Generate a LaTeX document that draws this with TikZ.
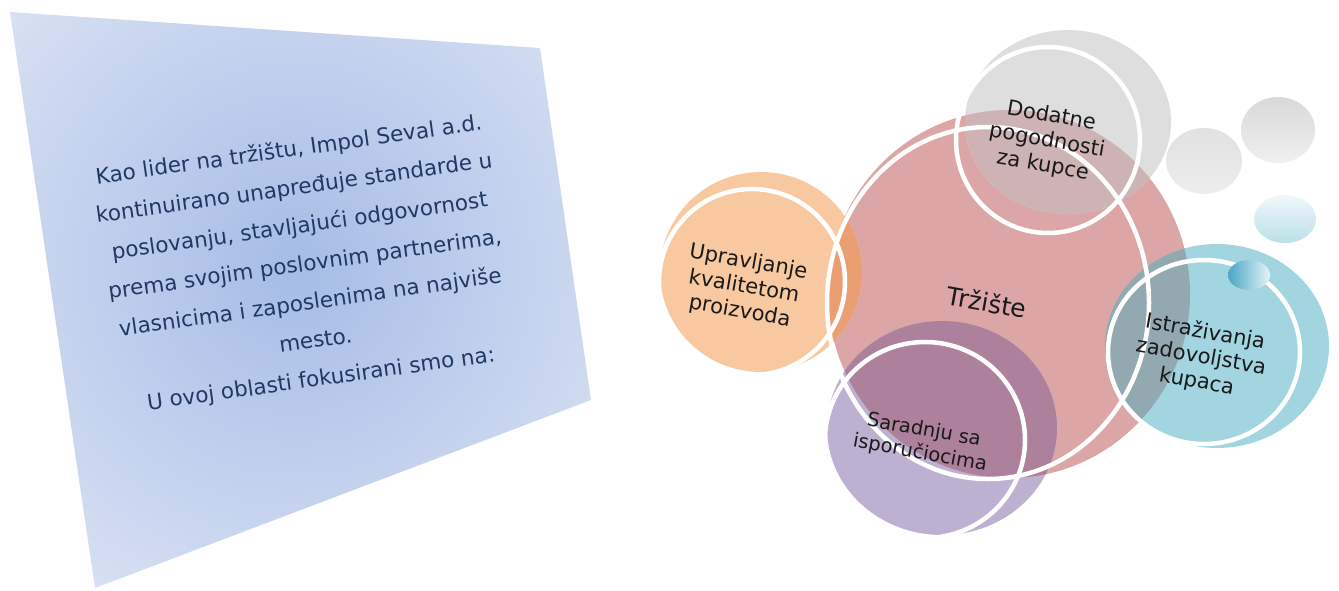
\documentclass[tikz,border=0pt]{standalone}
\usepackage{fontspec}
\setmainfont{DejaVu Sans}
\usetikzlibrary{shapes.geometric}
\definecolor{panelin}{HTML}{A6BCE6}
\definecolor{panelout}{HTML}{DFE6F5}
\definecolor{paneltext}{HTML}{1F3864}
\definecolor{pinkfill}{HTML}{DDA6A6}
\definecolor{orangefill}{HTML}{F8C9A0}
\definecolor{orangedeep}{HTML}{E99F72}
\definecolor{grayfill}{HTML}{DEDEDE}
\definecolor{graydeep}{HTML}{CDB3B3}
\definecolor{purplefill}{HTML}{BEB0D0}
\definecolor{purpledeep}{HTML}{AD819C}
\definecolor{tealfill}{HTML}{A2D5E0}
\definecolor{tealdeep}{HTML}{93A9B2}
\definecolor{tealdark}{HTML}{4AA6C5}
\definecolor{teallight}{HTML}{E6F3F7}
\tikzset{
  bubble/.style={ellipse, inner sep=0pt, draw=none},
  rim/.style={ellipse, inner sep=0pt, draw=white, line width=4.5pt},
  lbl/.style={align=center, text=black!90, inner sep=0pt, rotate=-10,
    font=\fontsize{21}{25}\selectfont},
}
\begin{document}
\begin{tikzpicture}[x=1pt,y=-1pt]
\useasboundingbox (0,0) rectangle (1339,590);
\coordinate (q1) at (10,12);
\coordinate (q2) at (540,48);
\coordinate (q3) at (591,400);
\coordinate (q4) at (95,588);
\begin{scope}
\clip (q1) -- (q2) -- (q3) -- (q4) -- cycle;
\shade[inner color=panelin, outer color=panelout] (295,268) circle (440pt);
\end{scope}
\node[align=center, text=paneltext, rotate=8, inner sep=0pt,
  font=\fontsize{21.5}{38.5}\selectfont] (intro) at (305,265)
  {Kao lider na tržištu, Impol Seval a.d.\\
   kontinuirano unapređuje standarde u\\
   poslovanju, stavljajući odgovornost\\
   prema svojim poslovnim partnerima,\\
   vlasnicima i zaposlenima na najviše\\
   mesto.\\
   U ovoj oblasti fokusirani smo na:};
\node[bubble, fill=pinkfill, minimum width=362pt, minimum height=368pt] (trz) at (1009,294){};
\node[bubble, fill=orangefill, minimum width=202pt, minimum height=200pt] (upr) at (761,272){};
\node[bubble, fill=grayfill, minimum width=206pt, minimum height=184pt] (dod) at (1068,122){};
\node[bubble, fill=purplefill, minimum width=230pt, minimum height=214pt] (sar) at (942,428){};
\node[bubble, fill=tealfill, minimum width=224pt, minimum height=204pt] (ist) at (1217,346){};
\begin{scope}
\clip (trz.center) ellipse (181pt and 184pt);
\fill[orangedeep] (upr.center) ellipse (101pt and 100pt);
\fill[graydeep] (dod.center) ellipse (103pt and 92pt);
\fill[purpledeep] (sar.center) ellipse (115pt and 107pt);
\fill[tealdeep] (ist.center) ellipse (112pt and 102pt);
\end{scope}
\node[rim, minimum width=322pt, minimum height=352pt] (trzrim) at (988,303){};
\node[rim, minimum width=186pt, minimum height=186pt] (uprrim) at (752,282){};
\node[rim, minimum width=184pt, minimum height=186pt] (dodrim) at (1048,140){};
\node[rim, minimum width=200pt, minimum height=196pt] (sarrim) at (925,440){};
\node[rim, minimum width=192pt, minimum height=184pt] (istrim) at (1204,352){};
\shade[top color=black!12, bottom color=black!7] (1204,161) ellipse (38pt and 33pt);
\shade[top color=black!15, bottom color=black!6] (1278,130) ellipse (37pt and 33pt);
\shade[top color=teallight!60!white, bottom color=tealfill!75!white] (1285,219) ellipse (31pt and 24pt);
\shade[left color=tealdark, right color=teallight] (1249,275) ellipse (21pt and 15pt);
\node[lbl] (trzlbl) at (987,302) {\fontsize{25}{30}\selectfont Tržište};
\node[lbl] (uprlbl) at (744,287) {Upravljanje\\kvalitetom\\proizvoda};
\node[lbl] (dodlbl) at (1047,141) {Dodatne\\pogodnosti\\za kupce};
\node[lbl] (istlbl) at (1201,357) {Istraživanja\\zadovoljstva\\kupaca};
\node[lbl, font=\fontsize{19.5}{23}\selectfont] (sarlbl) at (922,442) {Saradnju sa\\isporučiocima};
\end{tikzpicture}
\end{document}
